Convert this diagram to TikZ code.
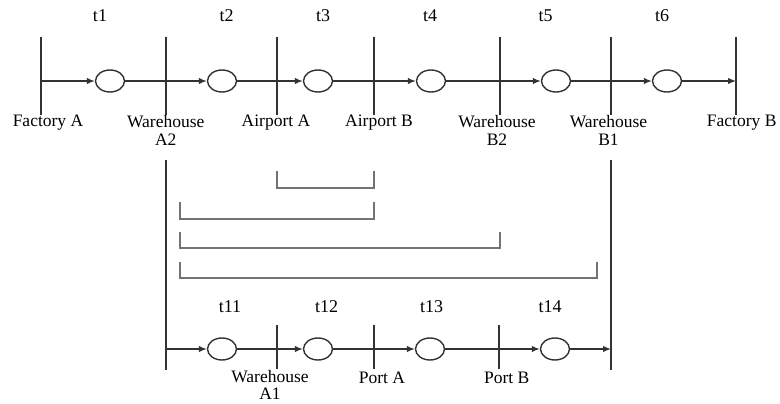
\documentclass[tikz,border=0pt]{standalone}
\usepackage{fontspec}
\setmainfont{Liberation Serif}
\usetikzlibrary{arrows.meta,shapes.geometric}
\begin{document}
\begin{tikzpicture}[x=1pt,y=-1pt,
  ln/.style={draw=black!80, line width=1.4pt},
  br/.style={draw=black!55, line width=1.4pt},
  arr/.style={ln, -{Latex[length=8pt,width=6.5pt]}},
  place/.style={ellipse, draw=black!80, line width=1.4pt, minimum width=29pt, minimum height=22pt, inner sep=0pt},
  lab/.style={inner sep=0pt, anchor=base, font=\fontsize{18}{18}\selectfont},
  mlab/.style={inner sep=0pt, anchor=north, align=center, font=\fontsize{17.5}{18}\selectfont},
  mlabb/.style={mlab, font=\fontsize{17.5}{17.5}\selectfont}]
\useasboundingbox (0,0) rectangle (780,404);
% top row bars
\foreach \n/\x in {fa/41, wa2/166, apa/277, apb/374, wb2/500, wb1/611, fb/736} {
  \coordinate (\n) at (\x,81);
  \coordinate (\n-t) at (\x,37);
  \coordinate (\n-b) at (\x,115);
}
\draw[ln] (fa-t) -- (fa-b);
\draw[ln] (wa2-t) -- (wa2-b);
\draw[ln] (apa-t) -- (apa-b);
\draw[ln] (apb-t) -- (apb-b);
\draw[ln] (wb2-t) -- (wb2-b);
\draw[ln] (wb1-t) -- (wb1-b);
\draw[ln] (fb-t) -- (fb-b);
% top places
\node[place] (p1) at (110,81) {};
\node[place] (p2) at (222,81) {};
\node[place] (p3) at (318,81) {};
\node[place] (p4) at (431,81) {};
\node[place] (p5) at (556,81) {};
\node[place] (p6) at (667,81) {};
\draw[arr] (fa) -- (p1.west);
\draw[ln] (p1.east) -- (wa2);
\draw[arr] (wa2) -- (p2.west);
\draw[ln] (p2.east) -- (apa);
\draw[arr] (apa) -- (p3.west);
\draw[ln] (p3.east) -- (apb);
\draw[arr] (apb) -- (p4.west);
\draw[ln] (p4.east) -- (wb2);
\draw[arr] (wb2) -- (p5.west);
\draw[ln] (p5.east) -- (wb1);
\draw[arr] (wb1) -- (p6.west);
\draw[arr] (p6.east) -- (fb);
% top labels
\node[lab] (t1) at (100,22) {t1};
\node[lab] (t2) at (226.7,22) {t2};
\node[lab] (t3) at (323,22) {t3};
\node[lab] (t4) at (430,22) {t4};
\node[lab] (t5) at (545.7,22) {t5};
\node[lab] (t6) at (662,22) {t6};
\node[mlab] (lfa) at (48,115) {Factory A};
\node[mlab] (lwa2) at (165.7,115) {Warehouse\\A2};
\node[mlab] (lapa) at (276,115) {Airport A};
\node[mlab] (lapb) at (379,115) {Airport B};
\node[mlab] (lwb2) at (497,115) {Warehouse\\B2};
\node[mlab] (lwb1) at (608.5,115) {Warehouse\\B1};
\node[mlab] (lfb) at (741.7,115) {Factory B};
% long verticals
\coordinate (lvt) at (166,160);
\coordinate (lvb) at (166,370);
\coordinate (rvt) at (611,160);
\coordinate (rvb) at (611,370);
\draw[ln] (lvt) -- (lvb);
\draw[ln] (rvt) -- (rvb);
% brackets
\draw[br] (277,171) -- (277,188) -- (374,188) -- (374,171);
\draw[br] (180,202) -- (180,219) -- (374,219) -- (374,202);
\draw[br] (180,232) -- (180,248) -- (500,248) -- (500,232);
\draw[br] (180,262) -- (180,278) -- (597,278) -- (597,262);
% bottom row
\coordinate (ql) at (166,349);
\coordinate (qr) at (611,349);
\foreach \n/\x in {wa1/277, pa/374, pb/499} {
  \coordinate (\n) at (\x,349);
  \coordinate (\n-t) at (\x,325);
  \coordinate (\n-b) at (\x,369);
}
\draw[ln] (wa1-t) -- (wa1-b);
\draw[ln] (pa-t) -- (pa-b);
\draw[ln] (pb-t) -- (pb-b);
\node[place] (q1) at (222,349) {};
\node[place] (q2) at (318,349) {};
\node[place] (q3) at (430,349) {};
\node[place] (q4) at (555,349) {};
\draw[arr] (ql) -- (q1.west);
\draw[ln] (q1.east) -- (wa1);
\draw[arr] (wa1) -- (q2.west);
\draw[ln] (q2.east) -- (pa);
\draw[arr] (pa) -- (q3.west);
\draw[ln] (q3.east) -- (pb);
\draw[arr] (pb) -- (q4.west);
\draw[arr] (q4.east) -- (qr);
\node[lab] (t11) at (230,312) {t11};
\node[lab] (t12) at (326.7,312) {t12};
\node[lab] (t13) at (431.7,312) {t13};
\node[lab] (t14) at (550,312) {t14};
\node[mlabb] (lwa1) at (270,370) {Warehouse\\A1};
\node[mlabb] (lpa) at (382,372) {Port A};
\node[mlabb] (lpb) at (506.7,372) {Port B};
\end{tikzpicture}
\end{document}
